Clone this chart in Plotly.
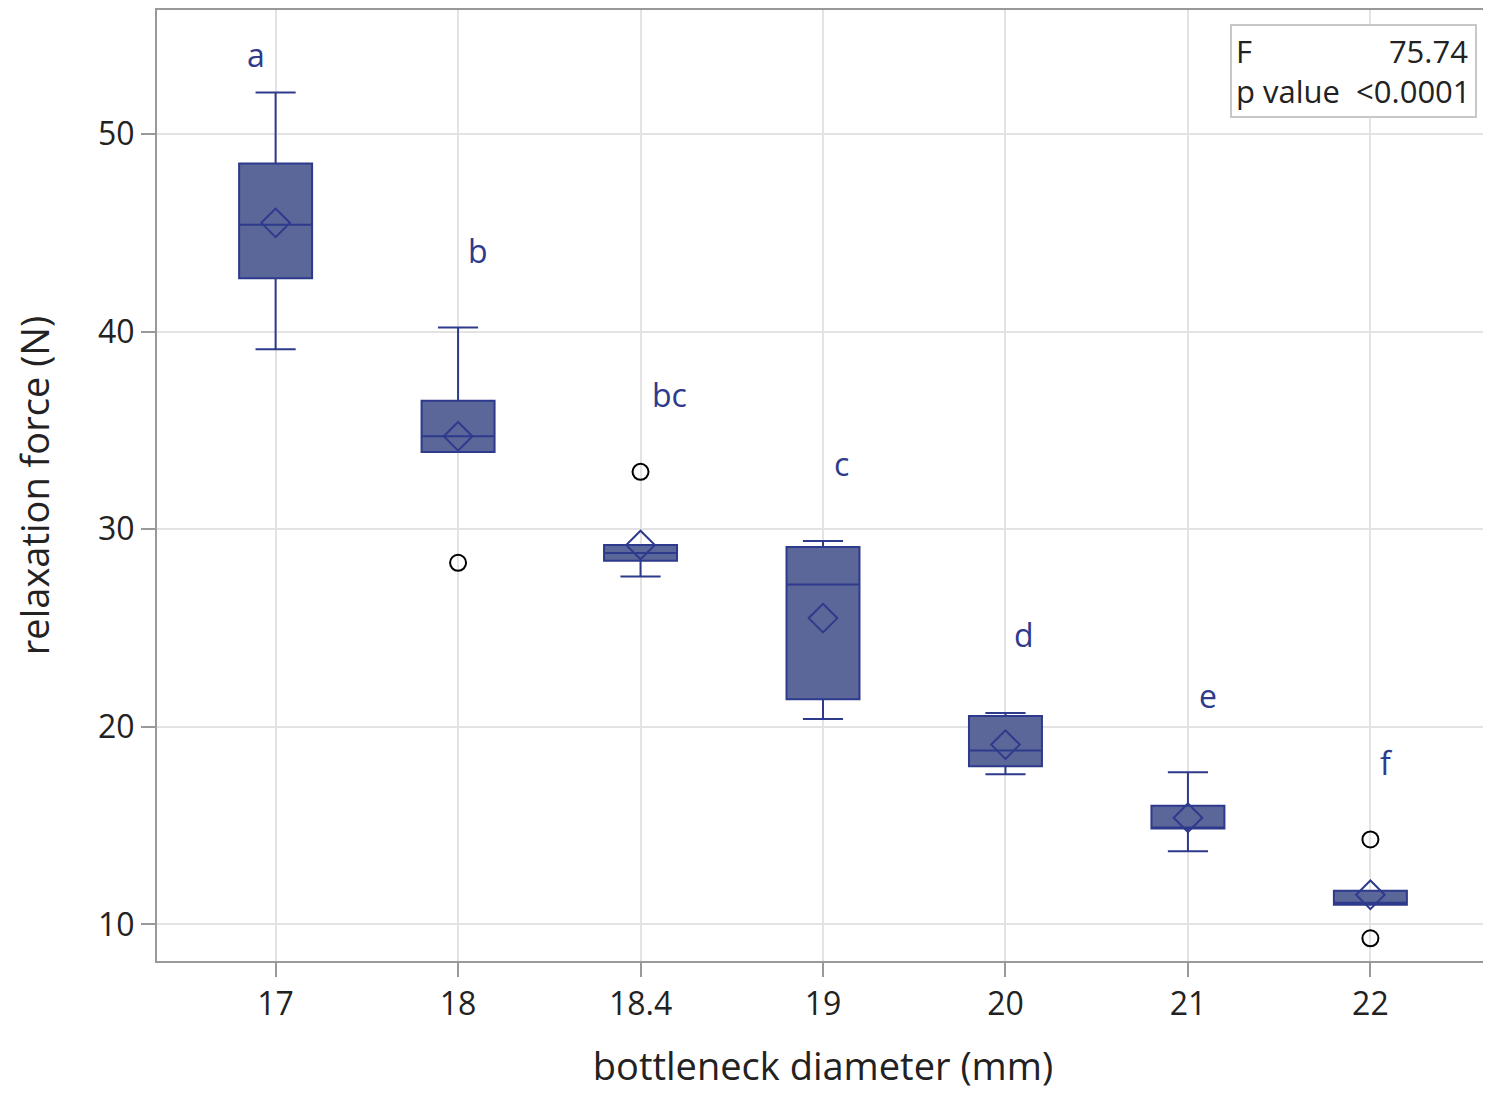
import plotly.graph_objects as go

diameters = ["17", "18", "18.4", "19", "20", "21", "22"]
q1 = [42.7, 33.9, 28.4, 21.4, 18.0, 14.85, 11.0]
median = [45.4, 34.7, 28.8, 27.2, 18.8, 14.9, 11.1]
q3 = [48.5, 36.5, 29.2, 29.1, 20.55, 16.0, 11.7]
lower = [39.1, 33.9, 27.6, 20.4, 17.6, 13.7, 11.0]
upper = [52.1, 40.2, 29.2, 29.4, 20.7, 17.7, 11.7]
means = [45.5, 34.7, 29.2, 25.5, 19.1, 15.4, 11.5]
outlier_x = ["18", "18.4", "22", "22"]
outlier_y = [28.3, 32.9, 14.3, 9.3]
letters = ["a", "b", "bc", "c", "d", "e", "f"]
letter_y = [54.0, 44.1, 36.8, 33.3, 24.65, 21.6, 18.2]
letter_dx = [-0.11, 0.11, 0.16, 0.1, 0.1, 0.11, 0.09]

navy = "#2e3a8c"
font = "Open Sans, DejaVu Sans, sans-serif"

fig = go.Figure()
fig.add_trace(go.Box(
    x=diameters, q1=q1, median=median, q3=q3,
    lowerfence=lower, upperfence=upper,
    fillcolor="#5b6699", line=dict(color=navy, width=2),
    width=0.4, whiskerwidth=0.55, boxpoints=False, hoverinfo="skip"))
fig.add_trace(go.Scatter(
    x=diameters, y=means, mode="markers",
    marker=dict(symbol="diamond-open", size=22, color=navy, line=dict(width=2))))
fig.add_trace(go.Scatter(
    x=outlier_x, y=outlier_y, mode="markers",
    marker=dict(symbol="circle-open", size=16, color="black", line=dict(width=2))))

for i, (t, y, dx) in enumerate(zip(letters, letter_y, letter_dx)):
    fig.add_annotation(x=i + dx, y=y, text=t, showarrow=False,
                       font=dict(size=32, color=navy, family=font))

fig.add_annotation(
    xref="paper", yref="paper", x=0.991, y=0.985, xanchor="right", yanchor="top",
    text="F&nbsp;&nbsp;&nbsp;&nbsp;&nbsp;&nbsp;&nbsp;&nbsp;&nbsp;&nbsp;&nbsp;&nbsp;&nbsp;&nbsp;&nbsp;&nbsp;&nbsp;75.74<br>p value&nbsp;&nbsp;&lt;0.0001",
    align="left", showarrow=False, bordercolor="#c8c8c8", borderwidth=2, borderpad=4,
    bgcolor="white", font=dict(size=31, color="#222", family=font))

fig.update_layout(
    width=1483, height=1096, showlegend=False,
    plot_bgcolor="white", paper_bgcolor="white",
    margin=dict(l=149, r=1, t=0, b=143),
    font=dict(family=font, size=32, color="#222"),
    xaxis=dict(type="category", range=[-0.65, 6.65], showgrid=True, gridcolor="#e3e3e3",
               gridwidth=2, showline=True, linecolor="#999", linewidth=2, mirror=True,
               ticks="outside", ticklen=14, tickcolor="#999", tickwidth=2,
               title=dict(text="bottleneck diameter (mm)", standoff=30)),
    yaxis=dict(range=[8.15, 56.27], tickvals=[10, 20, 30, 40, 50], showgrid=True,
               gridcolor="#e3e3e3", gridwidth=2, showline=True, linecolor="#999",
               linewidth=2, mirror=True, ticks="outside", ticklen=14, tickcolor="#999",
               tickwidth=2, zeroline=False,
               title=dict(text="relaxation force (N)", standoff=40)),
)

fig.write_html("out.html")
